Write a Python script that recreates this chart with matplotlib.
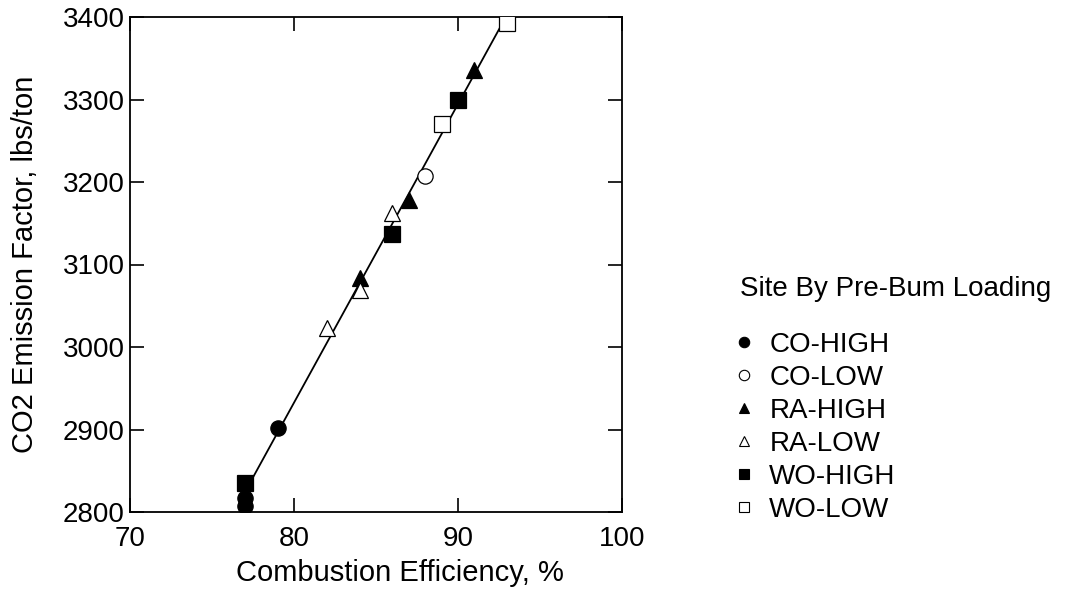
import numpy as np
import matplotlib
matplotlib.use('agg')
import matplotlib.pyplot as plt
from matplotlib.lines import Line2D

plt.rcParams['font.family'] = ['Liberation Sans', 'DejaVu Sans']

# combustion efficiency (%) and CO2 emission factor (lbs/ton) per group
co_high_x = [77, 77, 79]
co_high_y = [2807, 2817, 2902]
co_low_x = [88]
co_low_y = [3207]
ra_high_x = [84, 87, 91]
ra_high_y = [3084, 3178, 3336]
ra_low_x = [82, 84, 86]
ra_low_y = [3023, 3069, 3162]
wo_high_x = [77, 86, 90]
wo_high_y = [2835, 3137, 3299]
wo_low_x = [89, 93]
wo_low_y = [3270, 3393]

# fitted line
fit_slope = 36.2
fit_intercept = 36.5
fit_x = [77, 93]

labels = ['CO-HIGH', 'CO-LOW', 'RA-HIGH', 'RA-LOW', 'WO-HIGH', 'WO-LOW']

fig = plt.figure(figsize=(10.71, 5.93), dpi=100)
ax = fig.add_axes([130 / 1071, 1 - 512 / 593, 492 / 1071, 495 / 593])

fx = np.array(fit_x)
ax.plot(fx, fit_intercept + fit_slope * fx, color='black', lw=1.3, zorder=1)

groups = [
    (co_high_x, co_high_y, 'o', 'black', 11),
    (co_low_x, co_low_y, 'o', 'white', 11),
    (ra_high_x, ra_high_y, '^', 'black', 12),
    (ra_low_x, ra_low_y, '^', 'white', 12),
    (wo_high_x, wo_high_y, 's', 'black', 11),
    (wo_low_x, wo_low_y, 's', 'white', 11),
]
for xs, ys, m, fc, ms in groups:
    ax.plot(xs, ys, linestyle='none', marker=m, markersize=ms,
            markerfacecolor=fc, markeredgecolor='black', markeredgewidth=0.9,
            zorder=3)

ax.set_xlim(70, 100)
ax.set_ylim(2800, 3400)
ax.set_xticks([70, 80, 90, 100])
ax.set_yticks(np.arange(2800, 3401, 100))
ax.tick_params(direction='in', length=10, width=1.2, top=True, right=True,
               labelsize=20)
ax.tick_params(axis='x', pad=10)
ax.tick_params(axis='y', pad=4)
for sp in ax.spines.values():
    sp.set_linewidth(1.3)

ax.set_xlabel('Combustion Efficiency, %', fontsize=21)
ax.xaxis.set_label_coords(0.549, -0.095)
ax.set_ylabel('CO2 Emission Factor, lbs/ton', fontsize=21)
ax.yaxis.set_label_coords(-0.185, 0.5)

fig.text(740 / 1071, 1 - 289 / 593, 'Site By Pre-Bum Loading', fontsize=20,
         ha='left', va='center')

handles = []
for (xs, ys, m, fc, ms), lab in zip(groups, labels):
    handles.append(Line2D([], [], linestyle='none', marker=m, markersize=7.5,
                          markerfacecolor=fc, markeredgecolor='black',
                          markeredgewidth=0.8, label=lab))
fig.legend(handles=handles, loc='upper left',
           bbox_to_anchor=(736 / 1071, 1 - 332 / 593), frameon=False,
           fontsize=20, handlelength=0.6, handletextpad=0.6,
           labelspacing=0.25, borderpad=0, borderaxespad=0)

fig.savefig('out.png', dpi=100)
